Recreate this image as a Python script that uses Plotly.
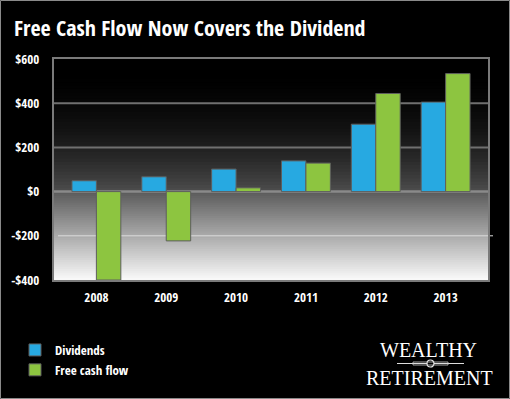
import plotly.graph_objects as go

years = ["2008", "2009", "2010", "2011", "2012", "2013"]
dividends = [49, 67, 102, 139, 305, 405]
free_cash_flow = [-400, -223, 17, 129, 444, 534]
tick_vals = [-400, -200, 0, 200, 400, 600]
tick_text = ["-$400", "-$200", "$0", "$200", "$400", "$600"]

BLUE = "#27a9e1"
GREEN = "#8dc540"
FONT = "Open Sans Condensed, Roboto Condensed, sans-serif"

W, H = 510, 399
L, R, T, B = 54, 22, 59, 119
PW, PH = W - L - R, H - T - B

def px_x(p):
    return (p - L) / PW

def px_y(p):
    return (H - B - p) / PH

fig = go.Figure()
fig.add_trace(go.Bar(name="Dividends", x=years, y=dividends,
                     marker=dict(color=BLUE, line=dict(color="#5e5e5e", width=1))))
fig.add_trace(go.Bar(name="Free cash flow", x=years, y=free_cash_flow,
                     marker=dict(color=GREEN, line=dict(color="#5e5e5e", width=1))))

shapes = []
def grey(v):
    v = int(max(0, min(255, v)))
    return f"rgb({v},{v},{v})"

n = 40
ymax, ymin = tick_vals[-1], tick_vals[0]
# above zero: stacked rects from 0 upward, lighter towards zero (no seams)
for i in range(n):
    top = ymax * (n - i) / n
    t = 1 - (top - ymax / n / 2) / ymax
    shapes.append(dict(type="rect", xref="paper", yref="y", x0=0, x1=1, y0=0, y1=top,
                       fillcolor=grey(78 * t ** 2.2), line=dict(width=0), layer="below"))
# below zero: stacked rects from the bottom upward, lighter towards the bottom
for i in range(n):
    top = ymin * i / n
    t = (top + ymin / n / 2) / ymin
    shapes.append(dict(type="rect", xref="paper", yref="y", x0=0, x1=1, y0=ymin, y1=top,
                       fillcolor=grey(90 + 160 * t), line=dict(width=0), layer="below"))

for v in tick_vals:
    if v in (ymin, ymax):
        continue
    if v == 0:
        shapes.append(dict(type="line", xref="paper", yref="y", x0=0, x1=1, y0=v, y1=v,
                           line=dict(color="#8a8a8a", width=2.5), layer="below"))
    elif v < 0:
        shapes.append(dict(type="line", xref="paper", yref="y", x0=px_x(58), x1=px_x(493),
                           y0=v, y1=v, line=dict(color="#dcdcdc", width=1), layer="below"))
    else:
        shapes.append(dict(type="line", xref="paper", yref="y", x0=0, x1=1, y0=v, y1=v,
                           line=dict(color="#707070", width=2), layer="below"))

shapes.append(dict(type="rect", xref="paper", yref="paper",
                   x0=px_x(0.5), x1=px_x(W - 0.5), y0=px_y(H - 0.5), y1=px_y(0.5),
                   line=dict(color="#8a8a8a", width=1), layer="above"))
# logo ornament: thin rule with a small medallion
shapes.append(dict(type="line", xref="paper", yref="paper",
                   x0=px_x(397), x1=px_x(464), y0=px_y(363.5), y1=px_y(363.5),
                   line=dict(color="#dddddd", width=1)))
shapes.append(dict(type="circle", xref="paper", yref="paper",
                   x0=px_x(427), x1=px_x(434), y0=px_y(367), y1=px_y(360),
                   fillcolor="black", line=dict(color="#eeeeee", width=1.2)))
shapes.append(dict(type="rect", xref="paper", yref="paper",
                   x0=px_x(413), x1=px_x(448), y0=px_y(365), y1=px_y(362),
                   fillcolor="rgba(0,0,0,0)", line=dict(color="#cccccc", width=0.8)))

annotations = [
    dict(text="WEALTHY", xref="paper", yref="paper", x=px_x(428), y=px_y(350),
         showarrow=False, font=dict(family="Liberation Serif, serif", size=20, color="white"),
         xanchor="center", yanchor="middle"),
    dict(text="RETIREMENT", xref="paper", yref="paper", x=px_x(429), y=px_y(377.5),
         showarrow=False, font=dict(family="Liberation Serif, serif", size=20, color="white"),
         xanchor="center", yanchor="middle"),
]

fig.update_layout(
    width=W, height=H,
    margin=dict(l=L, r=R, t=T, b=B, pad=0, autoexpand=False),
    paper_bgcolor="black", plot_bgcolor="black",
    barmode="group", bargap=0.3, bargroupgap=0,
    title=dict(text="<b>Free Cash Flow Now Covers the Dividend</b>", x=14 / W, xanchor="left",
               y=1 - 28 / H, yanchor="middle", xref="container", yref="container",
               font=dict(family=FONT, size=22, color="white")),
    font=dict(family=FONT, color="white"),
    xaxis=dict(range=[-0.607, 5.607], showgrid=False, showline=True, mirror=True,
               linecolor="#7a7a7a", linewidth=2, tickfont=dict(size=13, color="white"),
               ticks="", ticklabelstandoff=4, zeroline=False, automargin=False,
               tickvals=years, ticktext=[f"<b>{y}</b>" for y in years]),
    yaxis=dict(range=[ymin, ymax], tickvals=tick_vals, ticktext=[f"<b>{t}</b>" for t in tick_text],
               showgrid=False, zeroline=False, showline=True, mirror=True, automargin=False,
               linecolor="#7a7a7a", linewidth=2, tickfont=dict(size=13, color="white"),
               ticks="", ticklabelstandoff=10),
    legend=dict(x=px_x(15), y=px_y(335), xanchor="left", yanchor="top",
                font=dict(family=FONT, size=13, color="white"), bgcolor="rgba(0,0,0,0)",
                traceorder="normal"),
    shapes=shapes,
    annotations=annotations,
)
fig.data[0].update(name="<b>Dividends</b>")
fig.data[1].update(name="<b>Free cash flow</b>")

fig.write_html("out.html", config={"displayModeBar": False},
               post_script="document.body.style.margin='0';document.body.style.overflow='hidden';")
